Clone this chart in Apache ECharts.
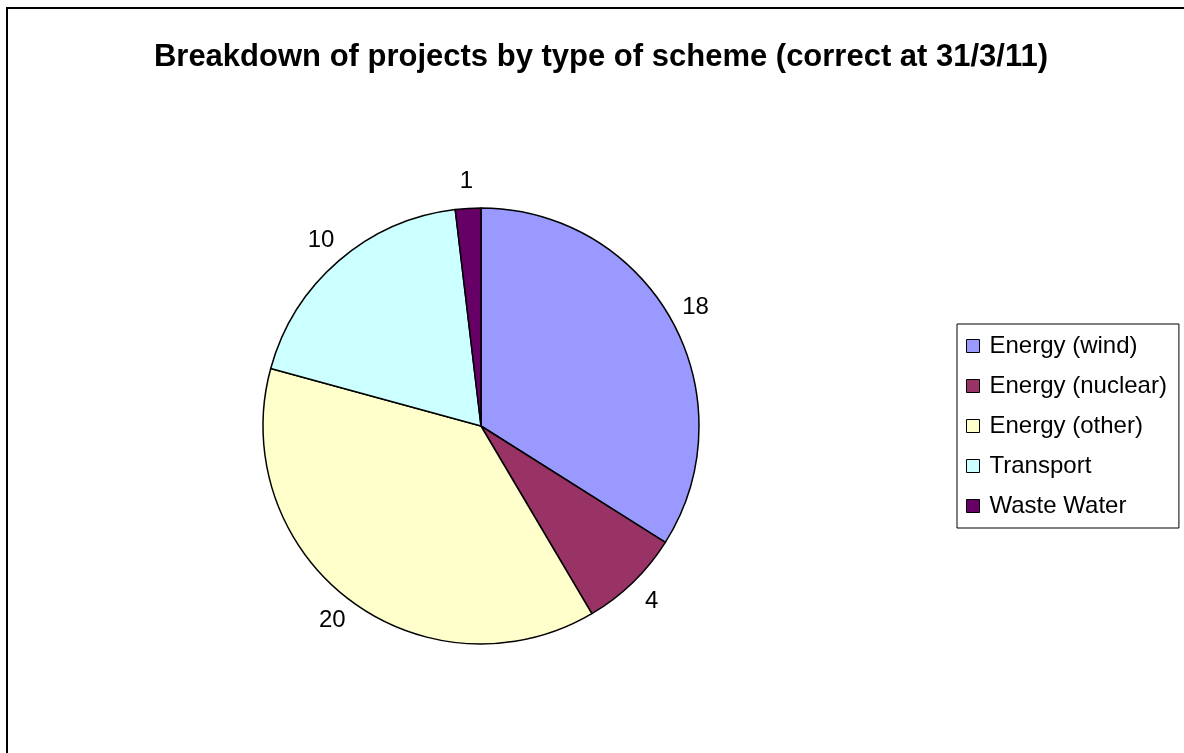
<!DOCTYPE html>
<html>
<head>
<meta charset="utf-8">
<script src="https://cdn.jsdelivr.net/npm/echarts@6/dist/echarts.min.js"></script>
<style>
  html, body { margin: 0; padding: 0; background: #fff; }
  #chart { width: 1184px; height: 753px; }
</style>
</head>
<body>
<div id="chart"></div>
<script>
const titleText = 'Breakdown of projects by type of scheme (correct at 31/3/11)'
const categories = ['Energy (wind)', 'Energy (nuclear)', 'Energy (other)', 'Transport', 'Waste Water']
const projectCounts = [18, 4, 20, 10, 1]
const sliceColors = ['#9999FF', '#993366', '#FFFFCC', '#CCFFFF', '#660066']

const pieCenter = [481, 426]
const chart = echarts.init(document.getElementById('chart'))

const option = {
  backgroundColor: '#fff',
  animation: false,
  title: {
    text: titleText,
    left: 596,
    textAlign: 'center',
    top: 37,
    textStyle: { fontFamily: 'Liberation Sans, Arial', fontWeight: 'bold', fontSize: 31, color: '#000' }
  },
  graphic: [
    {
      type: 'rect',
      shape: { x: 7, y: 8, width: 1300, height: 900 },
      style: { fill: 'none', stroke: '#000', lineWidth: 2 },
      silent: true
    }
  ],
  legend: {
    orient: 'vertical',
    left: 957,
    top: 324,
    padding: [10, 12, 10, 9],
    itemGap: 16,
    itemWidth: 13,
    itemHeight: 13,
    icon: 'rect',
    borderColor: '#000',
    borderWidth: 1,
    itemStyle: { borderColor: '#000', borderWidth: 1 },
    textStyle: { fontFamily: 'Liberation Sans, Arial', fontSize: 24, color: '#000', lineHeight: 24, padding: [0, 0, 0, 5] },
    data: categories
  },
  series: [
    {
      type: 'pie',
      center: pieCenter,
      radius: 218,
      startAngle: 90,
      clockwise: true,
      color: sliceColors,
      itemStyle: { borderColor: '#000', borderWidth: 1.5 },
      label: {
        show: true,
        position: 'outside',
        formatter: '{c}',
        fontFamily: 'Liberation Sans, Arial',
        fontSize: 24,
        color: '#000'
      },
      labelLine: { show: false, length: 27, length2: 0 },
      // centre each value label on its anchor point, like the original
      labelLayout: (params) => {
        const r = params.labelRect
        const dir = r.x + r.width / 2 > pieCenter[0] ? -1 : 1
        return { dx: dir * (r.width / 2 + 5) }
      },
      emphasis: { disabled: true },
      data: categories.map((name, i) => ({ name, value: projectCounts[i] }))
    }
  ]
}

chart.setOption(option)
</script>
</body>
</html>
